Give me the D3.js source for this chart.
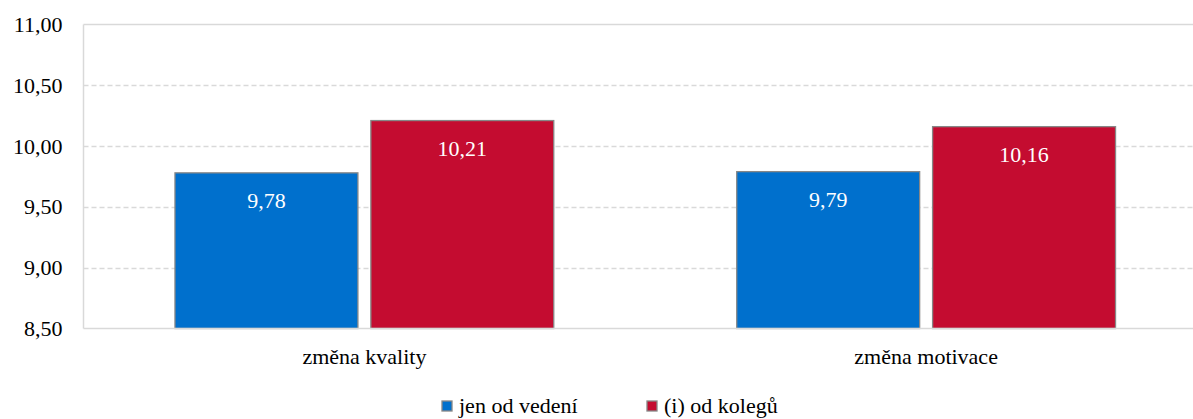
<!DOCTYPE html>
<html>
<head>
<meta charset="utf-8">
<script src="https://cdn.jsdelivr.net/npm/d3@7"></script>
<style>
  body { margin: 0; background: #fff; }
  svg { display: block; }
  svg text { font-family: "Times New Roman", Times, "Liberation Serif", Tinos, "DejaVu Serif", serif; }
</style>
</head>
<body>
<svg id="chart" width="1193" height="419"></svg>
<script>
// data
const categories = ['změna kvality', 'změna motivace'];
const seriesNames = ['jen od vedení', '(i) od kolegů'];
const seriesColors = ['#0070cd', '#c40c30'];
const vedeniValues = [9.78, 9.79];
const kolegoveValues = [10.21, 10.16];
const yTicks = [8.5, 9.0, 9.5, 10.0, 10.5, 11.0];

const svg = d3.select('#chart');
const plotLeft = 83.5, plotRight = 1207, plotTop = 24.5, plotBottom = 328.5;

const fmt = v => d3.format('.2f')(v).replace('.', ',');

const x0 = d3.scaleBand().domain(categories).range([plotLeft, plotRight]);
const x1 = d3.scaleBand().domain(seriesNames)
    .range([0, x0.bandwidth()])
    .paddingInner(0.066)
    .paddingOuter(0.467);
const y = d3.scaleLinear().domain([8.5, 11]).range([plotBottom, plotTop]);

// gridlines
svg.append('g')
    .selectAll('line')
    .data(yTicks.slice(1, -1))
    .join('line')
    .attr('x1', plotLeft).attr('x2', plotRight)
    .attr('y1', d => Math.round(y(d)) + 0.5).attr('y2', d => Math.round(y(d)) + 0.5)
    .attr('stroke', '#d9d9d9')
    .attr('stroke-width', 1.3)
    .attr('stroke-dasharray', '5,3');

// frame: top, left
const frame = svg.append('g').attr('stroke', '#d9d9d9').attr('stroke-width', 1.5);
frame.append('line').attr('x1', plotLeft).attr('x2', plotRight).attr('y1', plotTop).attr('y2', plotTop);
frame.append('line').attr('x1', plotLeft).attr('x2', plotLeft).attr('y1', plotTop).attr('y2', plotBottom);

// y axis labels
const yAxis = d3.axisLeft(y).tickValues(yTicks).tickFormat(fmt).tickSize(0).tickPadding(21);
svg.append('g')
    .attr('transform', `translate(${plotLeft},0)`)
    .call(yAxis)
    .call(g => g.select('.domain').remove())
    .selectAll('text')
    .attr('font-size', 22)
    .attr('fill', '#000');

// bars
const rows = categories.map((c, i) => ({
    cat: c,
    vals: [vedeniValues[i], kolegoveValues[i]]
}));

const groups = svg.append('g')
    .selectAll('g')
    .data(rows)
    .join('g')
    .attr('transform', d => `translate(${x0(d.cat)},0)`);

groups.selectAll('rect')
    .data(d => d.vals.map((v, j) => ({ name: seriesNames[j], v: v, j: j })))
    .join('rect')
    .attr('x', d => x1(d.name))
    .attr('y', d => y(d.v))
    .attr('width', x1.bandwidth())
    .attr('height', d => y(8.5) - y(d.v))
    .attr('fill', d => seriesColors[d.j])
    .attr('stroke', '#878787')
    .attr('stroke-width', 1.3);

groups.selectAll('text.val')
    .data(d => d.vals.map((v, j) => ({ name: seriesNames[j], v: v })))
    .join('text')
    .attr('class', 'val')
    .attr('x', d => x1(d.name) + x1.bandwidth() / 2)
    .attr('y', d => y(d.v) + 35)
    .attr('text-anchor', 'middle')
    .attr('font-size', 22)
    .attr('fill', '#fff')
    .text(d => fmt(d.v));

// bottom axis line + category labels
svg.append('line')
    .attr('x1', plotLeft).attr('x2', plotRight).attr('y1', plotBottom).attr('y2', plotBottom)
    .attr('stroke', '#d9d9d9').attr('stroke-width', 1.5);

const xAxis = d3.axisBottom(x0).tickSize(0).tickPadding(20);
svg.append('g')
    .attr('transform', `translate(0,${plotBottom})`)
    .call(xAxis)
    .call(g => g.select('.domain').remove())
    .selectAll('text')
    .attr('font-size', 22)
    .attr('fill', '#000');

// legend
const legendX = [442, 647];
const legend = svg.append('g')
    .selectAll('g')
    .data(seriesNames)
    .join('g')
    .attr('transform', (d, i) => `translate(${legendX[i]},401)`);

legend.append('rect')
    .attr('width', 10).attr('height', 10)
    .attr('fill', (d, i) => seriesColors[i])
    .attr('stroke', '#878787').attr('stroke-width', 1.3);

legend.append('text')
    .attr('x', 17).attr('y', 12)
    .attr('font-size', 22)
    .attr('fill', '#000')
    .text(d => d);
</script>
</body>
</html>
